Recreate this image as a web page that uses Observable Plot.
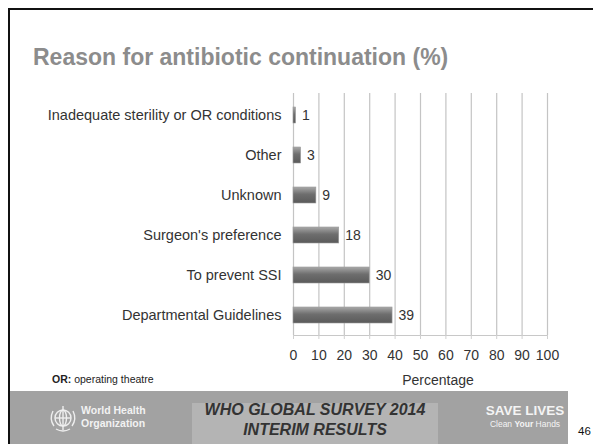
<!DOCTYPE html>
<html>
<head>
<meta charset="utf-8">
<script src="https://cdn.jsdelivr.net/npm/d3@7"></script>
<script src="https://cdn.jsdelivr.net/npm/@observablehq/plot@0.6"></script>
<style>
  html, body { margin: 0; padding: 0; background: #fff; }
  #slide { position: relative; width: 593px; height: 444px; overflow: hidden; background: #fff;
           font-family: "Liberation Sans", Arial, sans-serif; }
  .abs { position: absolute; white-space: nowrap; }
  #borderTop { left: 8px; top: 8px; width: 585px; height: 2px; background: #111; }
  #borderLeft { left: 8px; top: 8px; width: 2px; height: 436px; background: #111; }
  #title { left: 33px; top: 44px; font-size: 23px; font-weight: bold; color: #8c8c8c; }
  #chart { left: 0; top: 0; }
  #note { left: 52px; top: 373px; font-size: 10.5px; color: #222; }
  #xlabel { left: 388px; width: 100px; text-align: center; top: 372px; font-size: 14px; color: #333; }
  #footer { left: 10px; top: 391px; width: 558px; height: 53px; background: #a2a2a2; }
  #footBox { left: 192px; top: 403px; width: 246px; height: 41px; background: #b4b4b4;
             text-align: center; font-size: 16px; font-weight: bold; font-style: italic; color: #333; line-height: 20px; }
  #who { left: 81px; top: 404px; font-size: 10.5px; font-weight: bold; color: #f2f2f2; line-height: 12.5px; }
  #save { left: 475px; width: 100px; top: 403px; color: #f4f4f4; text-align: center; }
  #page { left: 578px; top: 425px; font-size: 11.5px; color: #111; }
</style>
</head>
<body>
<div id="slide">
  <div class="abs" id="borderTop"></div>
  <div class="abs" id="borderLeft"></div>
  <div class="abs" id="title">Reason for antibiotic continuation (%)</div>
  <div class="abs" id="chart"></div>
  <div class="abs" id="note"><b>OR:</b> operating theatre</div>
  <div class="abs" id="xlabel">Percentage</div>
  <div class="abs" id="footer"></div>
  <div class="abs" id="footBox"><div style="margin-top:-3px">WHO GLOBAL SURVEY 2014</div><div>INTERIM RESULTS</div></div>
  <svg class="abs" style="left:47px;top:402px" width="32" height="32" viewBox="0 0 32 32">
    <g fill="none" stroke="#eeeeee" stroke-width="1.4">
      <circle cx="16" cy="16" r="8"/>
      <ellipse cx="16" cy="16" rx="3.5" ry="8"/>
      <line x1="8" y1="16" x2="24" y2="16"/>
      <path d="M6 9 Q2 17 7 24 M9 27 Q16 31 23 27 M26 9 Q30 17 25 24"/>
      <path d="M16 4 L16 28"/>
    </g>
  </svg>
  <div class="abs" id="who">World Health<br>Organization</div>
  <div class="abs" id="save"><div style="font-size:13.5px;font-weight:bold">SAVE LIVES</div>
    <div style="font-size:8.5px;margin-top:1px">Clean <b>Your</b> Hands</div></div>
  <div class="abs" id="page">46</div>
</div>
<script>
// Reasons for continuing antibiotics after surgery, in percent
const reasons = [
  "Inadequate sterility or OR conditions",
  "Other",
  "Unknown",
  "Surgeon's preference",
  "To prevent SSI",
  "Departmental Guidelines"
];
const percents = [1, 3, 9, 18, 30, 39];
const xTicks = [0, 10, 20, 30, 40, 50, 60, 70, 80, 90, 100];

const rows = reasons.map((reason, i) => ({reason, value: percents[i]}));

const chart = Plot.plot({
  width: 593,
  height: 390,
  marginTop: 95,
  marginBottom: 55,
  marginLeft: 293,
  marginRight: 46,
  style: {fontFamily: "Liberation Sans, Arial, sans-serif", fontSize: "14px", color: "#333", background: "transparent"},
  x: {domain: [0, 100]},
  y: {domain: reasons, paddingInner: 0.6, paddingOuter: 0.3},
  marks: [
    // vertical gridlines, one per tick
    Plot.ruleX(xTicks, {stroke: "#c4c4c4", strokeWidth: 1.2, insetTop: -2}),
    Plot.frame({anchor: "bottom", stroke: "#c8c8c8", shapeRendering: "crispEdges"}),
    Plot.axisX(xTicks, {tickSize: 4, tickPadding: 11, stroke: "#d0d0d0", fill: "#333", fontSize: 14, label: null}),
    Plot.axisY({tickSize: 0, tickPadding: 12, fontSize: 14.5, fill: "#333", label: null}),
    Plot.barX(rows, {y: "reason", x: "value", fill: "url(#barShade)", stroke: "#9a9a9a", strokeWidth: 0.6}),
    Plot.text(rows, {y: "reason", x: "value", text: d => String(d.value), textAnchor: "start", dx: 6,
                     fontSize: 14, fill: "#333"})
  ]
});

// vertical shading for the bars
const defs = d3.select(chart).insert("defs", ":first-child");
const grad = defs.append("linearGradient").attr("id", "barShade")
  .attr("x1", 0).attr("y1", 0).attr("x2", 0).attr("y2", 1);
grad.append("stop").attr("offset", "0%").attr("stop-color", "#a8a8a8");
grad.append("stop").attr("offset", "45%").attr("stop-color", "#6e6e6e");
grad.append("stop").attr("offset", "100%").attr("stop-color", "#5a5a5a");

document.getElementById("chart").appendChild(chart);
</script>
</body>
</html>
